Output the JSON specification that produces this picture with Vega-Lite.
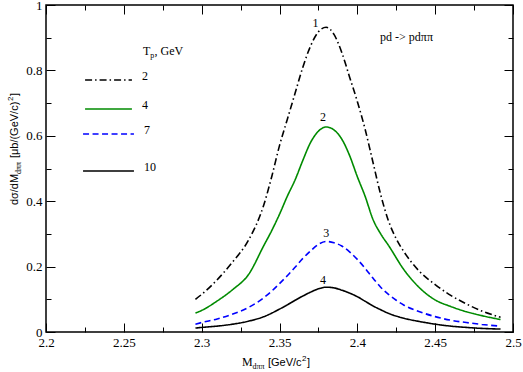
{
  "$schema": "https://vega.github.io/schema/vega-lite/v6.json",
  "width": 467,
  "height": 327,
  "autosize": "none",
  "padding": {"left": 46, "top": 5, "right": 10, "bottom": 40},
  "config": {
    "view": {"stroke": "#000", "strokeWidth": 1.5},
    "axis": {"domain": false, "grid": false, "tickColor": "#000", "tickWidth": 1, "labelColor": "#000", "labelFont": "Liberation Serif", "labelFontSize": 13, "labelFlush": false, "labelOverlap": false, "labelBound": false, "title": null},
    "text": {"font": "Liberation Serif", "fontSize": 12, "fill": "#000"}
  },
  "datasets": {
    "curves": [
      {"T": "2", "m": 2.296, "s": 0.100}, {"T": "2", "m": 2.30, "s": 0.115}, {"T": "2", "m": 2.31, "s": 0.160}, {"T": "2", "m": 2.32, "s": 0.215}, {"T": "2", "m": 2.33, "s": 0.280}, {"T": "2", "m": 2.34, "s": 0.390}, {"T": "2", "m": 2.345, "s": 0.475}, {"T": "2", "m": 2.35, "s": 0.570}, {"T": "2", "m": 2.355, "s": 0.650}, {"T": "2", "m": 2.36, "s": 0.730}, {"T": "2", "m": 2.365, "s": 0.810}, {"T": "2", "m": 2.37, "s": 0.875}, {"T": "2", "m": 2.375, "s": 0.918}, {"T": "2", "m": 2.38, "s": 0.932}, {"T": "2", "m": 2.385, "s": 0.910}, {"T": "2", "m": 2.39, "s": 0.855}, {"T": "2", "m": 2.395, "s": 0.780}, {"T": "2", "m": 2.40, "s": 0.705}, {"T": "2", "m": 2.405, "s": 0.620}, {"T": "2", "m": 2.41, "s": 0.520}, {"T": "2", "m": 2.415, "s": 0.420}, {"T": "2", "m": 2.42, "s": 0.340}, {"T": "2", "m": 2.425, "s": 0.285}, {"T": "2", "m": 2.43, "s": 0.245}, {"T": "2", "m": 2.435, "s": 0.212}, {"T": "2", "m": 2.44, "s": 0.185}, {"T": "2", "m": 2.45, "s": 0.145}, {"T": "2", "m": 2.46, "s": 0.112}, {"T": "2", "m": 2.47, "s": 0.086}, {"T": "2", "m": 2.48, "s": 0.064}, {"T": "2", "m": 2.492, "s": 0.045},
      {"T": "4", "m": 2.296, "s": 0.058}, {"T": "4", "m": 2.30, "s": 0.066}, {"T": "4", "m": 2.31, "s": 0.095}, {"T": "4", "m": 2.32, "s": 0.130}, {"T": "4", "m": 2.33, "s": 0.175}, {"T": "4", "m": 2.34, "s": 0.265}, {"T": "4", "m": 2.345, "s": 0.310}, {"T": "4", "m": 2.35, "s": 0.360}, {"T": "4", "m": 2.355, "s": 0.415}, {"T": "4", "m": 2.36, "s": 0.465}, {"T": "4", "m": 2.365, "s": 0.525}, {"T": "4", "m": 2.37, "s": 0.580}, {"T": "4", "m": 2.375, "s": 0.614}, {"T": "4", "m": 2.38, "s": 0.627}, {"T": "4", "m": 2.385, "s": 0.618}, {"T": "4", "m": 2.39, "s": 0.590}, {"T": "4", "m": 2.395, "s": 0.540}, {"T": "4", "m": 2.40, "s": 0.475}, {"T": "4", "m": 2.405, "s": 0.415}, {"T": "4", "m": 2.41, "s": 0.345}, {"T": "4", "m": 2.415, "s": 0.300}, {"T": "4", "m": 2.42, "s": 0.265}, {"T": "4", "m": 2.43, "s": 0.190}, {"T": "4", "m": 2.44, "s": 0.135}, {"T": "4", "m": 2.45, "s": 0.098}, {"T": "4", "m": 2.46, "s": 0.078}, {"T": "4", "m": 2.47, "s": 0.062}, {"T": "4", "m": 2.48, "s": 0.050}, {"T": "4", "m": 2.492, "s": 0.038},
      {"T": "7", "m": 2.296, "s": 0.024}, {"T": "7", "m": 2.30, "s": 0.029}, {"T": "7", "m": 2.31, "s": 0.040}, {"T": "7", "m": 2.32, "s": 0.055}, {"T": "7", "m": 2.33, "s": 0.075}, {"T": "7", "m": 2.34, "s": 0.105}, {"T": "7", "m": 2.345, "s": 0.125}, {"T": "7", "m": 2.35, "s": 0.148}, {"T": "7", "m": 2.355, "s": 0.172}, {"T": "7", "m": 2.36, "s": 0.198}, {"T": "7", "m": 2.365, "s": 0.225}, {"T": "7", "m": 2.37, "s": 0.248}, {"T": "7", "m": 2.375, "s": 0.268}, {"T": "7", "m": 2.38, "s": 0.277}, {"T": "7", "m": 2.385, "s": 0.273}, {"T": "7", "m": 2.39, "s": 0.263}, {"T": "7", "m": 2.395, "s": 0.245}, {"T": "7", "m": 2.40, "s": 0.222}, {"T": "7", "m": 2.405, "s": 0.195}, {"T": "7", "m": 2.41, "s": 0.165}, {"T": "7", "m": 2.415, "s": 0.137}, {"T": "7", "m": 2.42, "s": 0.115}, {"T": "7", "m": 2.425, "s": 0.097}, {"T": "7", "m": 2.43, "s": 0.082}, {"T": "7", "m": 2.44, "s": 0.062}, {"T": "7", "m": 2.45, "s": 0.047}, {"T": "7", "m": 2.46, "s": 0.036}, {"T": "7", "m": 2.47, "s": 0.029}, {"T": "7", "m": 2.48, "s": 0.023}, {"T": "7", "m": 2.492, "s": 0.018},
      {"T": "10", "m": 2.296, "s": 0.012}, {"T": "10", "m": 2.30, "s": 0.014}, {"T": "10", "m": 2.31, "s": 0.018}, {"T": "10", "m": 2.32, "s": 0.024}, {"T": "10", "m": 2.33, "s": 0.033}, {"T": "10", "m": 2.34, "s": 0.047}, {"T": "10", "m": 2.35, "s": 0.070}, {"T": "10", "m": 2.355, "s": 0.083}, {"T": "10", "m": 2.36, "s": 0.097}, {"T": "10", "m": 2.365, "s": 0.110}, {"T": "10", "m": 2.37, "s": 0.122}, {"T": "10", "m": 2.375, "s": 0.132}, {"T": "10", "m": 2.38, "s": 0.137}, {"T": "10", "m": 2.385, "s": 0.135}, {"T": "10", "m": 2.39, "s": 0.128}, {"T": "10", "m": 2.395, "s": 0.119}, {"T": "10", "m": 2.40, "s": 0.108}, {"T": "10", "m": 2.405, "s": 0.094}, {"T": "10", "m": 2.41, "s": 0.080}, {"T": "10", "m": 2.415, "s": 0.068}, {"T": "10", "m": 2.42, "s": 0.057}, {"T": "10", "m": 2.43, "s": 0.042}, {"T": "10", "m": 2.44, "s": 0.032}, {"T": "10", "m": 2.45, "s": 0.024}, {"T": "10", "m": 2.46, "s": 0.018}, {"T": "10", "m": 2.47, "s": 0.014}, {"T": "10", "m": 2.48, "s": 0.011}, {"T": "10", "m": 2.492, "s": 0.009}
    ],
    "legend": [
      {"T": "2", "x1": 2.2251, "x2": 2.2552, "y": 0.7706},
      {"T": "4", "x1": 2.2251, "x2": 2.2552, "y": 0.682},
      {"T": "7", "x1": 2.2238, "x2": 2.2565, "y": 0.6055},
      {"T": "10", "x1": 2.2238, "x2": 2.2565, "y": 0.4924}
    ],
    "peaks": [
      {"label": "1", "m": 2.3732, "s": 0.944},
      {"label": "2", "m": 2.378, "s": 0.657},
      {"label": "3", "m": 2.380, "s": 0.303},
      {"label": "4", "m": 2.378, "s": 0.159}
    ]
  },
  "resolve": {"axis": {"x": "independent", "y": "independent"}},
  "layer": [
    {
      "data": {"name": "curves"},
      "mark": {"type": "line", "strokeWidth": 1.6, "interpolate": "monotone"},
      "encoding": {
        "x": {"field": "m", "type": "quantitative", "scale": {"domain": [2.2, 2.5], "nice": false, "zero": false},
              "axis": {"orient": "bottom", "values": [2.2, 2.25, 2.3, 2.35, 2.4, 2.45, 2.5], "format": "~g", "tickSize": -9, "labelPadding": 13}},
        "y": {"field": "s", "type": "quantitative", "scale": {"domain": [0, 1], "nice": false, "zero": false},
              "axis": {"orient": "left", "values": [0, 0.2, 0.4, 0.6, 0.8, 1], "format": "~g", "tickSize": -9, "labelPadding": 13}},
        "color": {"field": "T", "type": "nominal", "scale": {"domain": ["2", "4", "7", "10"], "range": ["#000000", "#008b00", "#0000ff", "#000000"]}, "legend": null},
        "strokeDash": {"field": "T", "type": "nominal", "scale": {"domain": ["2", "4", "7", "10"], "range": [[7, 3, 1.5, 3], [1, 0], [6, 3.5], [1, 0]]}, "legend": null},
        "order": {"field": "m", "type": "quantitative"}
      }
    },
    {
      "data": {"values": []},
      "mark": {"type": "point", "opacity": 0},
      "encoding": {
        "x": {"field": "m", "type": "quantitative", "axis": {"orient": "top", "values": [2.2, 2.25, 2.3, 2.35, 2.4, 2.45, 2.5], "labels": false, "tickSize": -9}},
        "y": {"field": "s", "type": "quantitative", "axis": {"orient": "right", "values": [0, 0.2, 0.4, 0.6, 0.8, 1], "labels": false, "tickSize": -9}}
      }
    },
    {
      "data": {"values": []},
      "mark": {"type": "point", "opacity": 0},
      "encoding": {
        "x": {"field": "m", "type": "quantitative", "axis": {"orient": "bottom", "values": [2.225, 2.275, 2.325, 2.375, 2.425, 2.475], "labels": false, "tickSize": -5}},
        "y": {"field": "s", "type": "quantitative", "axis": {"orient": "left", "values": [0.1, 0.3, 0.5, 0.7, 0.9], "labels": false, "tickSize": -5}}
      }
    },
    {
      "data": {"values": []},
      "mark": {"type": "point", "opacity": 0},
      "encoding": {
        "x": {"field": "m", "type": "quantitative", "axis": {"orient": "top", "values": [2.225, 2.275, 2.325, 2.375, 2.425, 2.475], "labels": false, "tickSize": -5}},
        "y": {"field": "s", "type": "quantitative", "axis": {"orient": "right", "values": [0.1, 0.3, 0.5, 0.7, 0.9], "labels": false, "tickSize": -5}}
      }
    },
    {
      "data": {"name": "legend"},
      "mark": {"type": "rule", "strokeWidth": 1.6},
      "encoding": {
        "x": {"field": "x1", "type": "quantitative", "axis": null},
        "x2": {"field": "x2"},
        "y": {"field": "y", "type": "quantitative", "axis": null},
        "color": {"field": "T", "type": "nominal", "legend": null},
        "strokeDash": {"field": "T", "type": "nominal", "legend": null}
      }
    },
    {
      "data": {"name": "legend"},
      "mark": {"type": "text", "align": "left", "baseline": "alphabetic", "dx": 10},
      "encoding": {
        "x": {"field": "x2", "type": "quantitative", "axis": null},
        "y": {"field": "y", "type": "quantitative", "axis": null},
        "text": {"field": "T"}
      }
    },
    {
      "data": {"name": "peaks"},
      "mark": {"type": "text", "align": "center", "baseline": "middle"},
      "encoding": {
        "x": {"field": "m", "type": "quantitative", "axis": null},
        "y": {"field": "s", "type": "quantitative", "axis": null},
        "text": {"field": "label"}
      }
    },
    {
      "data": {"values": [{}]},
      "mark": {"type": "text", "align": "left", "baseline": "middle", "text": "pd -> pdππ"},
      "encoding": {"x": {"datum": 2.4146, "type": "quantitative", "axis": null}, "y": {"datum": 0.902, "type": "quantitative", "axis": null}}
    },
    {
      "data": {"values": [{}]},
      "layer": [
        {"mark": {"type": "text", "align": "left", "baseline": "alphabetic", "text": "T"}},
        {"mark": {"type": "text", "align": "left", "baseline": "alphabetic", "text": "p", "fontSize": 8, "dx": 7.3, "dy": 3}},
        {"mark": {"type": "text", "align": "left", "baseline": "alphabetic", "text": ", GeV", "dx": 11.5}}
      ],
      "encoding": {"x": {"datum": 2.2623, "type": "quantitative", "axis": null}, "y": {"datum": 0.847, "type": "quantitative", "axis": null}}
    },
    {
      "data": {"values": [{}]},
      "layer": [
        {"mark": {"type": "text", "align": "left", "baseline": "alphabetic", "text": "M", "fontSize": 12}},
        {"mark": {"type": "text", "align": "left", "baseline": "alphabetic", "text": "dππ", "fontSize": 8, "dx": 10.5, "dy": 3}},
        {"mark": {"type": "text", "align": "left", "baseline": "alphabetic", "text": "[GeV/c", "font": "Liberation Sans", "fontSize": 11, "dx": 26}},
        {"mark": {"type": "text", "align": "left", "baseline": "alphabetic", "text": "2", "font": "Liberation Sans", "fontSize": 8, "dx": 60, "dy": -5}},
        {"mark": {"type": "text", "align": "left", "baseline": "alphabetic", "text": "]", "font": "Liberation Sans", "fontSize": 11, "dx": 65}}
      ],
      "encoding": {"x": {"datum": 2.3259, "type": "quantitative", "axis": null}, "y": {"datum": -0.104, "type": "quantitative", "axis": null}}
    },
    {
      "data": {"values": [{}]},
      "layer": [
        {"mark": {"type": "text", "align": "left", "baseline": "alphabetic", "angle": 270, "text": "dσ/dM", "font": "Liberation Sans", "fontSize": 11}},
        {"mark": {"type": "text", "align": "left", "baseline": "alphabetic", "angle": 270, "text": "dππ", "fontSize": 8, "dx": 31, "dy": 3}},
        {"mark": {"type": "text", "align": "left", "baseline": "alphabetic", "angle": 270, "text": "[μb/(GeV/c)", "font": "Liberation Sans", "fontSize": 11, "dx": 47}},
        {"mark": {"type": "text", "align": "left", "baseline": "alphabetic", "angle": 270, "text": "2", "font": "Liberation Sans", "fontSize": 8, "dx": 104, "dy": -5}},
        {"mark": {"type": "text", "align": "left", "baseline": "alphabetic", "angle": 270, "text": "]", "font": "Liberation Sans", "fontSize": 11, "dx": 109}}
      ],
      "encoding": {"x": {"datum": 2.182, "type": "quantitative", "axis": null}, "y": {"datum": 0.388, "type": "quantitative", "axis": null}}
    }
  ]
}
